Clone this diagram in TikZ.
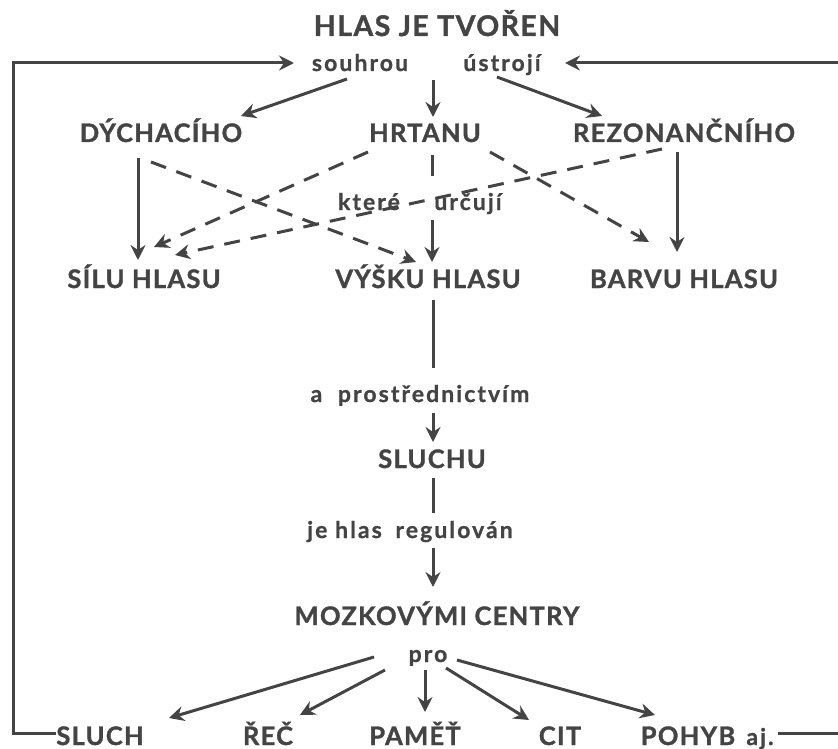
\documentclass[tikz,border=0pt]{standalone}
\usepackage{fontspec}
\setmainfont{Lato}
\newfontfamily\capsfont[LetterSpace=5,FakeBold=1.3]{Lato}
\newfontfamily\lowfont[LetterSpace=9,FakeBold=0.9]{Lato}
\usetikzlibrary{arrows.meta,calc}
\definecolor{ink}{HTML}{444444}
\tikzset{
  capt/.style={font=\capsfont\bfseries\fontsize{25.5}{28}\selectfont, text=ink, inner sep=0pt, anchor=base},
  bigcapt/.style={capt, font=\capsfont\bfseries\fontsize{28.5}{31}\selectfont},
  low/.style={font=\lowfont\bfseries\fontsize{23}{26}\selectfont, text=ink, inner sep=0pt, anchor=base},
  ln/.style={draw=ink, line width=3pt},
  arr/.style={ln, -{Stealth[length=15pt,width=15pt,inset=5pt]}},
  dsh/.style={arr, dash pattern=on 16pt off 11pt},
}
\begin{document}
\begin{tikzpicture}[x=1pt,y=-1pt]
\path[use as bounding box] (0,0) rectangle (838,749);
% texts
\node[bigcapt] (title) at (437,36) {HLAS JE TVOŘEN};
\node[low] (souhrou) at (360,71) {souhrou};
\node[low] (ustroji) at (502,71) {ústrojí};
\node[capt] (dych) at (161,142) {DÝCHACÍHO};
\node[capt] (hrtanu) at (425,142) {HRTANU};
\node[capt] (rez) at (684,142) {REZONANČNÍHO};
\node[low] (ktere) at (369,210) {které};
\node[low] (urcuji) at (468,210) {určují};
\node[capt] (sila) at (144,288) {SÍLU HLASU};
\node[capt] (vyska) at (428,288) {VÝŠKU HLASU};
\node[capt] (barva) at (684,288) {BARVU HLASU};
\node[low] (prostr) at (420,402) {a\hspace{8pt} prostřednictvím};
\node[capt] (sluchu) at (432,468) {SLUCHU};
\node[low] (reg) at (410,538) {je hlas\hspace{6pt} regulován};
\node[capt] (mozek) at (437,625) {MOZKOVÝMI CENTRY};
\node[low] (pro) at (428,662) {pro};
\node[capt] (sluch) at (100,745) {SLUCH};
\node[capt] (rec) at (268,745) {ŘEČ};
\node[capt] (pamet) at (415,745) {PAMĚŤ};
\node[capt] (cit) at (560,745) {CIT};
\node[capt] (pohyb) at (688,745) {POHYB};
\node[low] (aj) at (760,745) {aj.};
% feedback corners
\coordinate (fbL) at (13,63);
\coordinate (fbR) at (842,63);
\draw[arr] ($(sluch.base)+(-44,-12)$) -| (fbL) -- ($(souhrou.base)+(-66,-8)$);
\draw[arr] (fbR) -- ($(ustroji.base)+(63,-8)$);
\draw[ln] ($(aj.base)+(18,-12)$) -- ($(aj.base)+(90,-12)$);
% top fan
\draw[arr] ($(souhrou.base)+(-13,8)$) -- ($(dych.base)+(80,-26)$);
\draw[arr] ($(hrtanu.base)+(8,-62)$) -- ($(hrtanu.base)+(8,-25)$);
\draw[arr] ($(ustroji.base)+(-5,6)$) -- ($(rez.base)+(-82,-26)$);
% middle
\draw[arr] ($(dych.base)+(-23,16)$) -- ($(sila.base)+(-6,-28)$);
\draw[dsh] ($(dych.base)+(-10,20)$) -- ($(vyska.base)+(-12,-26)$);
\draw[dsh] ($(hrtanu.base)+(-57,10)$) -- ($(sila.base)+(10,-41)$);
\draw[ln] ($(hrtanu.base)+(7,13)$) -- ($(hrtanu.base)+(7,34)$);
\draw[arr] ($(vyska.base)+(4,-68)$) -- ($(vyska.base)+(4,-26)$);
\draw[dsh] ($(hrtanu.base)+(65,10)$) -- ($(barva.base)+(-35,-46)$);
\draw[dsh] ($(rez.base)+(-22,7)$) -- ($(sila.base)+(31,-33)$);
\draw[arr] ($(rez.base)+(-7,10)$) -- ($(barva.base)+(-7,-36)$);
% central column
\draw[ln] ($(vyska.base)+(5,12)$) -- ($(prostr.base)+(13,-34)$);
\draw[arr] ($(prostr.base)+(13,11)$) -- ($(sluchu.base)+(1,-26)$);
\draw[ln] ($(sluchu.base)+(1,10)$) -- ($(reg.base)+(23,-25)$);
\draw[arr] ($(reg.base)+(23,10)$) -- ($(mozek.base)+(-4,-38)$);
% bottom fan
\draw[arr] ($(pro.base)+(-54,-5)$) -- ($(sluch.base)+(69,-27)$);
\draw[arr] ($(pro.base)+(-43,8)$) -- ($(rec.base)+(32,-30)$);
\draw[arr] ($(pro.base)+(-3,8)$) -- ($(pamet.base)+(10,-33)$);
\draw[arr] ($(pro.base)+(18,6)$) -- ($(cit.base)+(-31,-25)$);
\draw[arr] ($(pro.base)+(29,-2)$) -- ($(pohyb.base)+(-33,-30)$);
\end{tikzpicture}
\end{document}
